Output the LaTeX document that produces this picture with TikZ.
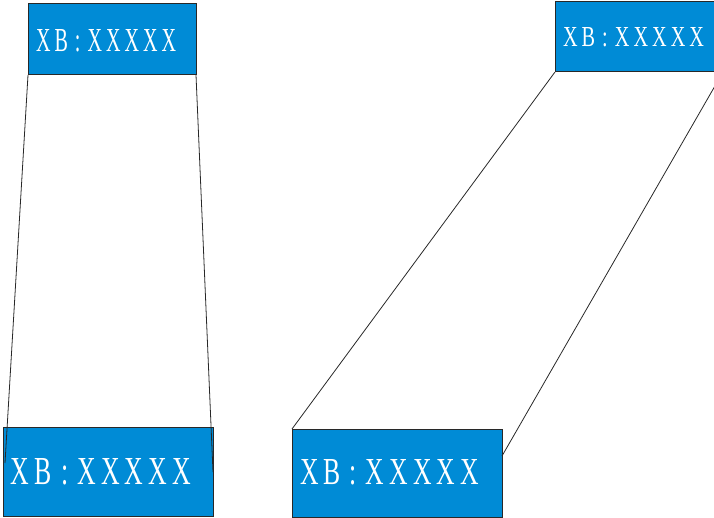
\documentclass[tikz,border=0pt]{standalone}
\usepackage{fontspec}
\usepackage{graphicx}
\newfontfamily\labfont[LetterSpace=20]{Liberation Serif}
\definecolor{boxblue}{RGB}{0,139,214}
\definecolor{edgegray}{RGB}{40,40,40}
\tikzset{
  panel/.style={draw=edgegray, line width=1pt, fill=boxblue, inner sep=0pt, outer sep=0pt},
  lab/.style={text=white, inner sep=0pt, outer sep=0pt, anchor=south west},
  wire/.style={draw=edgegray, line width=0.8pt}
}
\newcommand{\labtext}[2]{\resizebox{#1pt}{#2pt}{\labfont XB\hspace{0.35em}:\hspace{0.35em}XXXXX}}
\begin{document}
\begin{tikzpicture}[x=1pt,y=-1pt]
\useasboundingbox (0,0) rectangle (714,518);
\clip (0,0) rectangle (714,518);
% boxes
\path[panel] (28,4) rectangle (196,75);
\coordinate (b1sw) at (28,75); \coordinate (b1se) at (196,75);
\node[lab] (t1) at (36,52) {\labtext{140}{22}};
\path[panel] (555,2) rectangle (723,72);
\coordinate (b2sw) at (555,72); \coordinate (b2se) at (723,72);
\node[lab] (t2) at (563,47) {\labtext{141}{19}};
\path[panel] (3,427) rectangle (213,516);
\node[lab] (t3) at (11,485) {\labtext{180}{26}};
\path[panel] (292,429) rectangle (502,517);
\coordinate (b4nw) at (292,429);
\node[lab] (t4) at (300,485) {\labtext{179}{25}};
% connector end points on lower boxes
\coordinate (e3l) at (5,463);
\coordinate (e3r) at (213,472);
\coordinate (e4r) at (502,456);
% wires
\draw[wire] (b1sw) -- (e3l);
\draw[wire] (b1se) -- (e3r);
\draw[wire] (b2sw) -- (b4nw);
\draw[wire] (b2se) -- (e4r);
\end{tikzpicture}
\end{document}
